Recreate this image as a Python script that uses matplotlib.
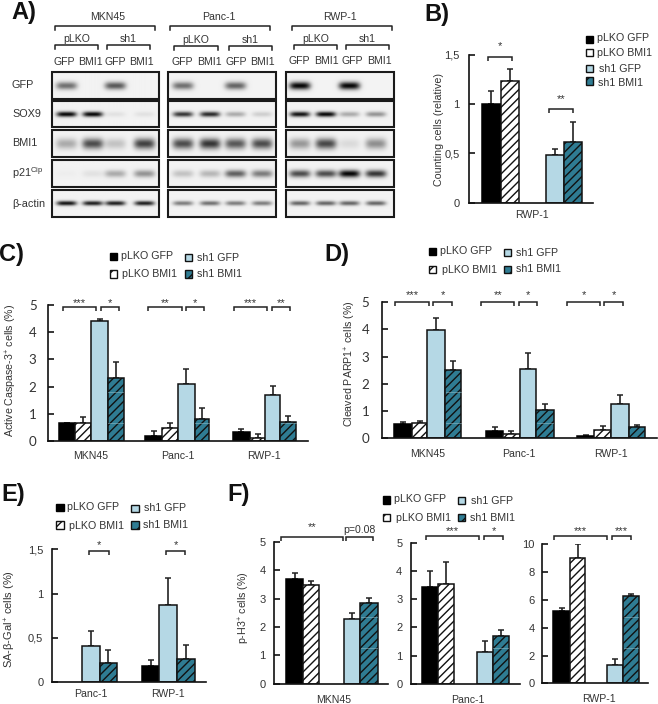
import numpy as np
import matplotlib
matplotlib.use('Agg')
import matplotlib.pyplot as plt
from matplotlib.patches import Rectangle

plt.rcParams['font.family'] = ['Liberation Sans', 'DejaVu Sans']
plt.rcParams['mathtext.default'] = 'regular'
plt.rcParams['hatch.linewidth'] = 1.0

# ---------- data ----------
conditions = ['pLKO GFP', 'pLKO BMI1', 'sh1 GFP', 'sh1 BMI1']
blot_proteins = ['GFP', 'SOX9', 'BMI1', 'p21$^{Cip}$', 'β-actin']
blot_lines = ['MKN45', 'Panc-1', 'RWP-1']
blot_gfp = [[.55, 0, .65, 0], [.55, 0, .6, 0], [1, 0, 1, 0]]
blot_sox9 = [[1, 1, .07, .07], [.8, .85, .3, .15], [.95, 1, .3, .4]]
blot_bmi1 = [[.3, .7, .2, .75], [.7, .8, .65, .7], [.38, .72, .1, .42]]
blot_p21 = [[.02, .07, .3, .4], [.2, .25, .62, .5], [.7, .7, 1, .8]]
blot_actin = [[.95, .9, .9, .9], [.5, .55, .5, .5], [.6, .6, .6, .6]]

b_groups = ['RWP-1']
b_vals = [[1.0, 1.24, .48, .62]]
b_tops = [[1.13, 1.36, .55, .82]]

c_groups = ['MKN45', 'Panc-1', 'RWP-1']
c_vals = [[.66, .65, 4.4, 2.3], [.18, .47, 2.1, .82], [.32, .1, 1.7, .7]]
c_tops = [[.68, .88, 4.5, 2.9], [.37, .68, 2.65, 1.2], [.45, .27, 2.03, .93]]

d_groups = ['MKN45', 'Panc-1', 'RWP-1']
d_vals = [[.52, .56, 3.97, 2.5], [.27, .16, 2.55, 1.05], [.07, .3, 1.27, .42]]
d_tops = [[.6, .62, 4.43, 2.83], [.4, .25, 3.15, 1.25], [.12, .43, 1.6, .47]]

e_groups = ['Panc-1', 'RWP-1']
e_vals = [[0, 0, .41, .21], [.18, 0, .87, .26]]
e_tops = [[0, 0, .58, .36], [.25, 0, 1.17, .42]]

f1_vals = [[3.68, 3.48, 2.3, 2.85]]
f1_tops = [[3.9, 3.62, 2.5, 3.03]]
f2_vals = [[3.43, 3.52, 1.13, 1.7]]
f2_tops = [[4.0, 4.33, 1.5, 1.9]]
f3_vals = [[5.2, 9.05, 1.3, 6.28]]
f3_tops = [[5.4, 10.0, 1.77, 6.45]]

# ---------- style and helpers ----------
W, H = 658, 704
TXT = '#333333'
fig = plt.figure(figsize=(W / 100, H / 100), dpi=100)
ov = fig.add_axes([0, 0, 1, 1], zorder=5)
ov.set_xlim(0, W); ov.set_ylim(H, 0); ov.axis('off'); ov.patch.set_alpha(0)

STY = [dict(facecolor='black', edgecolor='black'),
       dict(facecolor='white', edgecolor='#111111', hatch='////'),
       dict(facecolor='#B5D8E5', edgecolor='#111111'),
       dict(facecolor='#2F7C93', edgecolor='#111111', hatch='////')]


def spans(x0, seq):
    """six zoomed-crop readings -> four (left, right) bar spans in image pixels."""
    v = [x0 + s / 3 for s in seq]
    return [(v[0], v[1]), (v[1], v[2]), (v[3], v[4]), (v[4], v[5])]


def panel(left, right, y_zero, y_top, ymax, ticks, ticklabels, bars, vals, tops,
          groups, label_x, ylabel=None, ylab_x=0, ylab_y=0, tick_fs=8, tick_font='Liberation Sans',
          pad=5, xpad=4, ylab_fs=7.7, streaks=()):
    ax = fig.add_axes([left / W, 1 - y_zero / H, (right - left) / W, (y_zero - y_top) / H])
    ax.set_xlim(left, right); ax.set_ylim(0, ymax)
    ax.patch.set_alpha(0)
    for s in ('top', 'right'):
        ax.spines[s].set_visible(False)
    for s in ('left', 'bottom'):
        ax.spines[s].set_linewidth(1.2); ax.spines[s].set_color('#111111')
    for span, v, t in zip(bars, vals, tops):
        for i, (x0, x1) in enumerate(span):
            if v[i] <= 0:
                continue
            xc = (x0 + x1) / 2
            ax.errorbar([xc], [v[i]], yerr=[[0], [t[i] - v[i]]], color='#222222', lw=1.2,
                        capsize=2.2, capthick=1.1, zorder=1)
            ax.bar(xc, v[i], width=x1 - x0, linewidth=1.1, zorder=2, **STY[i])
            if i == 3:
                for py in streaks:
                    if y_zero - v[i] / ymax * (y_zero - y_top) < py:
                        ov.plot([x0 + .7, x1 - .7], [py, py], color='#8FBAC6', lw=.5, alpha=.8)
    ax.set_yticks(ticks); ax.set_yticklabels(ticklabels, fontsize=tick_fs, color=TXT, family=tick_font)
    ax.tick_params(axis='y', direction='in', length=4, width=1.1, pad=pad)
    ax.set_xticks(label_x); ax.set_xticklabels(groups, fontsize=7.6, color=TXT)
    ax.tick_params(axis='x', length=0, pad=xpad)
    if ylabel:
        ov.text(ylab_x, ylab_y, ylabel, rotation=90, ha='center', va='center',
                fontsize=ylab_fs, color=TXT)
    return ax


def bracket(x0, x1, y, label, ly, fs=8, dy=4):
    ov.plot([x0, x0, x1, x1], [y + dy, y, y, y + dy], color='#222222', lw=1.1,
            solid_joinstyle='miter', solid_capstyle='butt')
    ov.text((x0 + x1) / 2, ly, label, ha='center', va='center', fontsize=fs, color=TXT)


def legend(squares, texts, size=7.2, fs=7.7):
    for i, ((sx, sy), (tx, ty)) in enumerate(zip(squares, texts)):
        sty = dict(STY[i])
        if 'hatch' in sty:
            sty['hatch'] = '//'
        ov.add_patch(Rectangle((sx - size / 2, sy - size / 2), size, size, linewidth=1.0, **sty))
        ov.text(tx, ty, conditions[i], ha='left', va='center', fontsize=fs, color=TXT)


def z(x0, y0, pts):
    return [(x0 + a / 3, y0 + b / 3) for a, b in pts]


# ---------- panel letters ----------
for s, x, y in [('A)', 11, 13), ('B)', 424, 15), ('C)', -1, 254), ('D)', 324, 254),
                ('E)', 1, 495), ('F)', 227, 495)]:
    ov.text(x, y, s, fontsize=17, fontweight='bold', ha='left', va='center', color='#111111')

# ---------- panel A : blots ----------
frame_x = [(51.7, 159), (167.7, 275.7), (286.3, 394.3)]
frame_y = [(71.7, 98.7), (101.3, 127.3), (130.3, 156.7), (160.3, 186.7), (190.3, 217.3)]
lane_x = [[66, 92, 114.5, 143.5], [182.5, 209.5, 235, 261.5], [300, 326, 349.5, 376]]
band_h = [3.8, 2.6, 5.2, 3.6, 2.2]
band_w = [10.5, 10, 10.5, 10.5, 10]
blots = [blot_gfp, blot_sox9, blot_bmi1, blot_p21, blot_actin]
for r, (y0, y1) in enumerate(frame_y):
    ov.text(12, (y0 + y1) / 2, blot_proteins[r], fontsize=7.8, color=TXT, ha='left', va='center')
    for c, (x0, x1) in enumerate(frame_x):
        xs = np.arange(x0, x1, 0.5); ys = np.arange(y0, y1, 0.5)
        X, Y = np.meshgrid(xs, ys)
        img = np.zeros_like(X)
        yc = (y0 + y1) / 2
        for lane, inten in zip(lane_x[c], blots[r][c]):
            img += inten * np.exp(-((X - lane) / band_w[r]) ** 4 - ((Y - yc) / band_h[r]) ** 2)
        img = 0.95 - 0.93 * np.clip(img, 0, 1)
        ov.imshow(img, cmap='gray', vmin=0, vmax=1, extent=(x0, x1, y1, y0), aspect='auto',
                  interpolation='bilinear', zorder=1)
        ov.add_patch(Rectangle((x0, y0), x1 - x0, y1 - y0, fill=False, edgecolor='#1a1a1a',
                               lw=1.5, zorder=2))
ov.set_xlim(0, W); ov.set_ylim(H, 0)

for name, xc, (a, b) in zip(blot_lines, [107.7, 219, 340], [(55, 155), (170.3, 270.3), (292.3, 391.7)]):
    ov.text(xc, 16.5, name, ha='center', va='center', fontsize=7.6, color=TXT)
    ov.plot([a, a, b, b], [30, 26, 26, 30], color='#222222', lw=1.1)
for (a, b, c, d, y) in [(55, 98.3, 106.7, 150, 45), (174.3, 217.7, 228.7, 271.7, 46),
                        (294.3, 337.3, 346, 389, 45)]:
    for (p, q, t) in [(a, b, 'pLKO'), (c, d, 'sh1')]:
        ov.plot([p, p, q, q], [y + 4, y, y, y + 4], color='#222222', lw=1.1)
        ov.text((p + q) / 2, y - 6, t, ha='center', va='center', fontsize=7.6, color=TXT)
lane_lab_x = [[64, 90, 115.7, 141.7], [182.7, 209, 236.3, 262.7], [299.7, 326.3, 352.7, 379]]
for xs, y in zip(lane_lab_x, [61.7, 62.3, 60.7]):
    for x, t in zip(xs, ['GFP', 'BMI1', 'GFP', 'BMI1']):
        ov.text(x, y, t, ha='center', va='center', fontsize=7.6, color=TXT)

# ---------- panel B ----------
panel(469.3, 593, 202.7, 55, 1.5, [0, .5, 1, 1.5], ['0', '0,5', '1', '1,5'],
      [spans(420, [185, 242, 298, 377, 431, 486])], b_vals, b_tops, b_groups, [532],
      'Counting cells (relative)', 439, 130, pad=7, xpad=5)
bracket(420 + 205 / 3, 420 + 277 / 3, 56.7, '*', 46)
bracket(420 + 388 / 3, 420 + 460 / 3, 109.3, '**', 99)
legend(z(420, 0, [(508, 119), (508, 158), (508, 205), (508, 243)]),
       z(420, 0, [(530, 115), (530, 158), (538, 208), (533, 248)]))

# ---------- panel C ----------
panel(47.7, 308, 441, 305, 5, range(6), [str(i) for i in range(6)],
      [spans(0, [176, 226, 274, 274, 323, 371]), spans(0, [436, 487, 534, 534, 584, 628]),
       spans(0, [698, 750, 796, 796, 841, 889])],
      c_vals, c_tops, c_groups, [91, 178, 264],
      'Active Caspase-3$^{+}$ cells (%)', 11, 370, tick_fs=9.6, tick_font='Lato', pad=8, xpad=7,
      streaks=[235 + 470 / 3, 235 + 565 / 3])
for a, b, t in [(189, 288, '***'), (302, 357, '*'), (445, 546, '**'), (557, 613, '*'),
                (701, 802, '***'), (815, 870, '**')]:
    bracket(a / 3, b / 3, 235 + 215 / 3, t, 235 + 205 / 3)
legend(z(0, 235, [(340, 65), (340, 117), (565, 67), (565, 117)]),
       z(0, 235, [(362, 64), (365, 118), (590, 68), (590, 118)]))

# ---------- panel D ----------
panel(381.7, 657, 438, 302.3, 5, range(6), [str(i) for i in range(6)],
      [spans(330, [193, 245, 292, 292, 346, 394]), spans(330, [468, 519, 569, 569, 619, 671]),
       spans(330, [741, 793, 842, 842, 896, 945])],
      d_vals, d_tops, d_groups, [428, 519, 611],
      'Cleaved PARP1$^{+}$ cells (%)', 350.5, 364, tick_fs=9.6, tick_font='Lato', pad=9, xpad=8,
      streaks=[235 + 470 / 3, 235 + 565 / 3])
for a, b, t in [(196, 297, '***'), (310, 365, '*'), (454, 553, '**'), (566, 622, '*'),
                (711, 810, '*'), (823, 880, '*')]:
    bracket(330 + a / 3, 330 + b / 3, 235 + 201 / 3, t, 235 + 181 / 3)
legend(z(330, 235, [(308, 50), (308, 103), (533, 53), (533, 103)]),
       z(330, 235, [(330, 48), (335, 105), (558, 53), (557, 103)]))

# ---------- panel E ----------
panel(51.7, 206, 682, 549.3, 1.5, [0, .5, 1, 1.5], ['0', '0,5', '1', '1,5'],
      [spans(0, [197, 197, 197, 245, 299, 350]), spans(0, [427, 478, 478, 478, 531, 584])],
      e_vals, e_tops, e_groups, [91, 168],
      'SA-β-Gal$^{+}$ cells (%)', 10, 619, pad=6, xpad=5, ylab_fs=8)
bracket(268 / 3, 326 / 3, 480 + 212 / 3, '*', 480 + 195 / 3)
bracket(498 / 3, 556 / 3, 480 + 212 / 3, '*', 480 + 195 / 3)
legend(z(0, 480, [(180, 83), (180, 135), (405, 85), (405, 135)]),
       z(0, 480, [(202, 82), (207, 137), (431, 85), (429, 136)]))

# ---------- panel F ----------
fstreak = [480 + 410 / 3, 480 + 505 / 3]
panel(274, 388, 683.7, 542, 5, range(6), [str(i) for i in range(6)],
      [spans(240, [138, 190, 238, 313, 361, 413])], f1_vals, f1_tops, ['MKN45'], [334],
      'p-H3$^{+}$ cells (%)', 244.5, 608, pad=6, xpad=8, streaks=fstreak)
panel(410.7, 520, 683.7, 542.7, 5, range(6), [str(i) for i in range(6)],
      [spans(240, [545, 595, 643, 711, 758, 807])], f2_vals, f2_tops, ['Panc-1'], [468],
      pad=6, xpad=8, streaks=fstreak)
panel(541.7, 648, 683.3, 544.3, 10, range(0, 11, 2), [str(i) for i in range(0, 11, 2)],
      [spans(240, [940, 989, 1036, 1101, 1149, 1197])], f3_vals, f3_tops, ['RWP-1'], [599],
      pad=5, xpad=8, streaks=fstreak)
bracket(240 + 124 / 3, 240 + 308 / 3, 480 + 170 / 3, '**', 480 + 142 / 3)
bracket(240 + 318 / 3, 240 + 400 / 3, 480 + 170 / 3, 'p=0.08', 480 + 150 / 3, fs=7.6)
for a, b, t in [(558, 718, '***'), (733, 790, '*'), (942, 1102, '***'), (1116, 1173, '***')]:
    bracket(240 + a / 3, 240 + b / 3, 480 + 168 / 3, t, 480 + 154 / 3)
legend(z(240, 480, [(440, 60), (440, 113), (665, 62), (665, 113)]),
       z(240, 480, [(462, 58), (467, 115), (692, 63), (689, 115)]))

fig.savefig('out.png', dpi=100)
